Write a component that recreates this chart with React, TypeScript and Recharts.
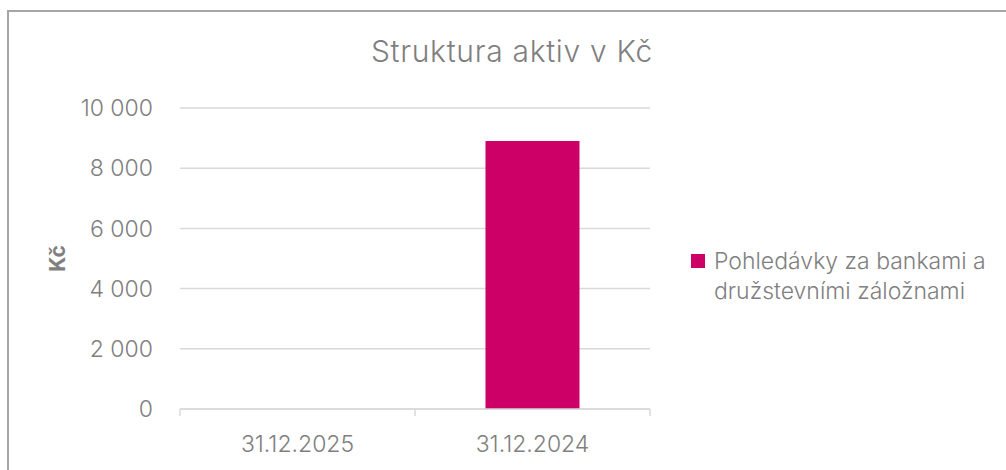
import { BarChart, Bar, XAxis, YAxis, CartesianGrid } from 'recharts';

const categories = ['31.12.2025', '31.12.2024'];
const receivables = [0, 8900];
const yTicks = [0, 2000, 4000, 6000, 8000, 10000];
const seriesName = 'Pohledávky za bankami a družstevními záložnami';
const legendLines = ['Pohledávky za bankami a', 'družstevními záložnami'];

const data = categories.map((date, i) => ({ date, value: receivables[i] }));

const GREY = '#7f7f7f';
const GRID = '#d9d9d9';
const PINK = '#cc0066';
const FONT = 'Inter, "Noto Sans", sans-serif';

const W = 1006;
const H = 470;
const margin = { top: 108, right: 356, left: 0, bottom: 31 };
const plotW = W - 180 - margin.right;

const fmt = (v: number) => String(v).replace(/\B(?=(\d{3})+(?!\d))/g, ' ');

const XTick = (props: any) => {
    const { x, y, payload, index } = props;
    const band = plotW / categories.length;
    return (
        <g>
            <line x1={x - band / 2} x2={x - band / 2} y1={y} y2={y + 7} stroke={GRID} strokeWidth={1.5} />
            {index === categories.length - 1 && (
                <line x1={x + band / 2} x2={x + band / 2} y1={y} y2={y + 7} stroke={GRID} strokeWidth={1.5} />
            )}
            <text x={x} y={y + 43} textAnchor="middle" fill={GREY} fontSize={23} fontFamily={FONT} fontWeight={300}>
                {payload.value}
            </text>
        </g>
    );
};

const LegendBox = () => (
    <div
        style={{
            position: 'absolute', left: 691, top: 246, fontFamily: FONT, fontSize: 23,
            fontWeight: 300, color: GREY, lineHeight: '30px', whiteSpace: 'nowrap',
        }}
        title={seriesName}
    >
        <div style={{ display: 'flex', alignItems: 'center' }}>
            <span style={{ display: 'inline-block', width: 14, height: 14, background: PINK, marginRight: 9 }} />
            <span>{legendLines[0]}</span>
        </div>
        <div style={{ paddingLeft: 23 }}>{legendLines[1]}</div>
    </div>
);

export default function App() {
    return (
        <div style={{ position: 'absolute', left: 0, top: 0, width: W, height: H, overflow: 'hidden', background: '#fff' }}>
            <div
                style={{
                    position: 'absolute', left: 7, top: 10, width: 1100, height: 600,
                    borderTop: '2px solid #a6a6a6', borderLeft: '2px solid #a6a6a6',
                }}
            />
            <div
                style={{
                    position: 'absolute', left: 0, top: 33, width: 1024, textAlign: 'center',
                    fontFamily: FONT, fontSize: 30, fontWeight: 300, color: GREY, letterSpacing: 0.7,
                }}
            >
                Struktura aktiv v Kč
            </div>
            <div style={{ position: 'absolute', left: 0, top: 0 }}>
                <BarChart width={W} height={H} data={data} margin={margin} barCategoryGap="30%">
                    <CartesianGrid vertical={false} stroke={GRID} strokeWidth={1.5} />
                    <XAxis
                        dataKey="date"
                        height={30}
                        axisLine={{ stroke: GRID, strokeWidth: 1.5 }}
                        tickLine={false}
                        tickSize={0}
                        tickMargin={0}
                        tick={<XTick />}
                        interval={0}
                    />
                    <YAxis
                        width={180}
                        domain={[0, 10000]}
                        ticks={yTicks}
                        tickFormatter={fmt}
                        axisLine={false}
                        tickLine={false}
                        tickSize={0}
                        tickMargin={27}
                        tick={{ fill: GREY, fontSize: 23, fontFamily: FONT, fontWeight: 300 }}
                        label={{
                            value: 'Kč', angle: -90, position: 'insideLeft', offset: 58,
                            style: { fill: GREY, fontSize: 21, fontWeight: 700, fontFamily: FONT, textAnchor: 'middle' },
                        }}
                    />
                    <Bar dataKey="value" name={seriesName} fill={PINK} isAnimationActive={false} />
                </BarChart>
            </div>
            <LegendBox />
        </div>
    );
}
